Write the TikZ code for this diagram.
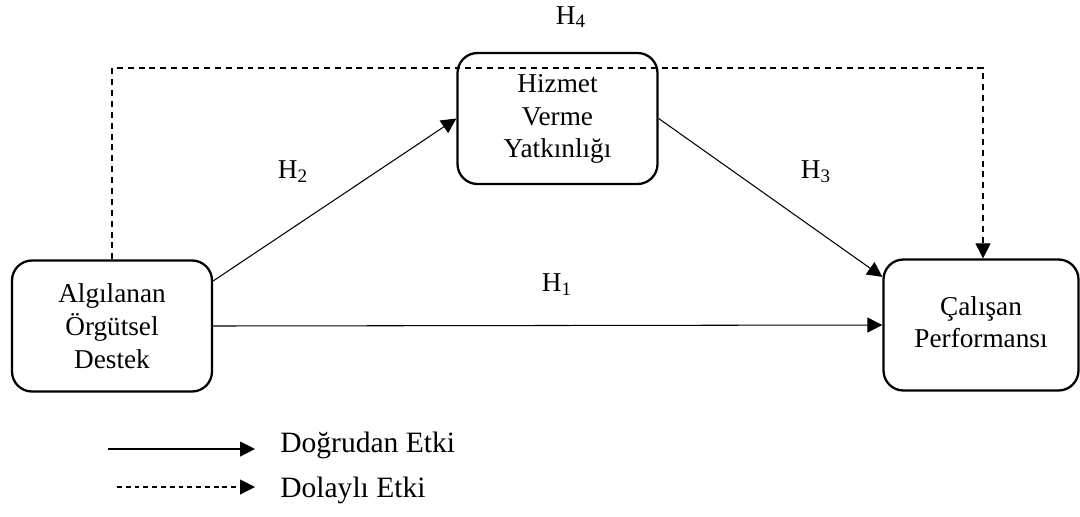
\documentclass[tikz,border=0pt]{standalone}
\usepackage{fontspec}
\setmainfont{Liberation Serif}
\usepackage{tikz}
\usetikzlibrary{arrows.meta}

\begin{document}
\begin{tikzpicture}[>={Triangle[length=0.3cm, width=0.3cm]}, every node/.style={font=\fontsize{15.5}{18.6}\selectfont}]
    \tikzstyle{construct}=[draw, line width=1.3pt, rounded corners=0.4cm, minimum width=4cm, minimum height=2.62cm, align=center]
    \tikzstyle{effect}=[line width=0.6pt]
    \tikzstyle{hyp}=[inner sep=0pt]
    \tikzstyle{legendtext}=[anchor=west, inner sep=0pt, font=\fontsize{16.8}{20}\selectfont]

    \useasboundingbox (0,0) rectangle (21.6,10.32);

    \node[construct] (alg) at (2.24,3.80) {Algılanan\\Örgütsel\\Destek};
    \node[construct] (hiz) at (11.15,7.95) {\raisebox{-0.05cm}{\begin{tabular}{@{}c@{}}Hizmet\\Verme\\Yatkınlığı\end{tabular}}};
    \node[construct, minimum width=3.9cm] (cal) at (19.62,3.82) {\raisebox{0.3cm}{\begin{tabular}{@{}c@{}}Çalışan\\Performansı\end{tabular}}};

    \node[hyp] (h1) at (11.14,4.62) {H\textsubscript{1}};
    \node[hyp] (h2) at (5.86,6.88) {H\textsubscript{2}};
    \node[hyp] (h3) at (16.32,6.88) {H\textsubscript{3}};
    \node[hyp] (h4) at (11.42,9.98) {H\textsubscript{4}};

    \draw[->, effect] (alg.east) -- (cal.west);
    \draw[->, effect] (alg.24) -- (hiz.west);
    \draw[->, effect] (hiz.east) -- (cal.154);
    \coordinate (h4top) at (19.66,8.96);
    \draw[->, effect, dash pattern=on 3.4pt off 2.8pt] (alg.north) |- (h4top) -- (cal.north -| h4top);

    \coordinate (solidA) at (2.16,1.34);
    \coordinate (solidB) at (5.10,1.34);
    \coordinate (dashA) at (2.34,0.58);
    \coordinate (dashB) at (5.10,0.58);
    \draw[->, effect] (solidA) -- (solidB);
    \draw[->, effect, dash pattern=on 2.8pt off 2.2pt] (dashA) -- (dashB);
    \node[legendtext] (direct) at (5.6,1.42) {Doğrudan Etki};
    \node[legendtext] (indirect) at (5.6,0.52) {Dolaylı Etki};
\end{tikzpicture}
\end{document}
